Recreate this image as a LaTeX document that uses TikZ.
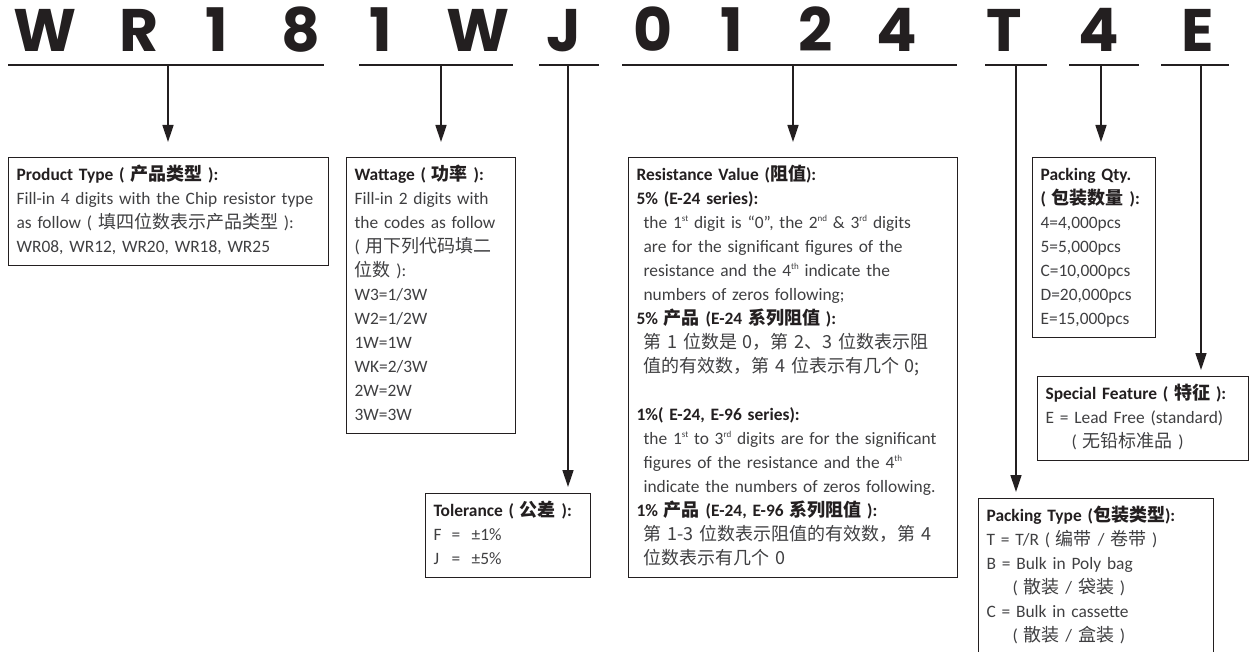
\documentclass[tikz,border=0pt]{standalone}
\usepackage{fontspec}
\setmainfont{Carlito}
\newfontfamily\codefont{Poppins}
\newfontfamily\zhfont{Noto Sans CJK SC}
\usetikzlibrary{arrows.meta}
\definecolor{ink}{HTML}{231F20}
\definecolor{greytext}{HTML}{3F3F41}
\newcommand\zh[1]{{\zhfont\fontsize{18}{24}\selectfont #1}}
\newcommand\hd[1]{\textcolor{ink}{\bfseries #1}}
\newcommand\sups[1]{\raisebox{6.5pt}{\fontsize{9}{9}\selectfont #1}}
\newcommand\ind{\hspace*{7pt}}
\begin{document}
\begin{tikzpicture}[x=1pt,y=-1pt,
  code/.style={font=\codefont\bfseries\fontsize{60}{60}\selectfont,text=ink,anchor=base,inner sep=0pt},
  uline/.style={draw=ink,line width=1.4pt},
  arr/.style={draw=ink,line width=1.5pt,-{Triangle[length=17pt,width=11pt]},shorten >=#1},
  arr/.default=6pt,
  infobox/.style={draw=ink,line width=1.2pt,anchor=north west,align=left,
    inner xsep=8pt,inner ysep=6pt,text=greytext,font=\fontsize{17.4}{24}\selectfont}]
\useasboundingbox (0,0) rectangle (1250,652);
\foreach \x/\c [count=\i] in {45/W,139/R,217/1,301/8,381/1,478/W,564/J,
    653/0,732/1,816/2,897/4,1004/T,1099/4,1198/E}
  \node[code] (c\i) at (\x,52) {\c};
\foreach \a/\b/\t/\n in {8/324/168/prodtick,359/513/441/watttick,539/599/568/toltick,
    622/957/793/restick,985/1047/1016/packtick,1069/1139/1101/qtytick,1161/1229/1201/feattick}
  {\draw[uline] (\a,65) -- (\b,65);
   \coordinate (\n) at (\t,65);}

\node[infobox,text width=304pt] (prod) at (8,157) {\strut\hd{Product Type ( \zh{产品类型} ):}\\
  Fill-in 4 digits with the Chip resistor type\\
  as follow ( \zh{填四位数表示产品类型} ):\\
  WR08, WR12, WR20, WR18, WR25\strut};
\node[infobox,text width=153pt] (watt) at (346,157) {\strut\hd{Wattage ( \zh{功率} ):}\\
  Fill-in 2 digits with\\
  the codes as follow\\
  ( \zh{用下列代码填二}\\
  \zh{位数} ):\\
  W3=1/3W\\ W2=1/2W\\ 1W=1W\\ WK=2/3W\\ 2W=2W\\ 3W=3W\strut};
\node[infobox,text width=149pt] (tol) at (425,493) {\strut\hd{Tolerance ( \zh{公差} ):}\\
  \makebox[18pt][l]{F}\makebox[20pt][l]{=}±1\%\\
  \makebox[18pt][l]{J}\makebox[20pt][l]{=}±5\%\strut};
\node[infobox,text width=313pt] (res) at (628,157) {\strut\hd{Resistance Value (\zh{阻值}):}\\
  \hd{5\% (E-24 series):}\\
  \ind the 1\sups{st} digit is “0”, the 2\sups{nd} \& 3\sups{rd} digits\\
  \ind are for the significant figures of the\\
  \ind resistance and the 4\sups{th} indicate the\\
  \ind numbers of zeros following;\\
  \hd{5\% \zh{产品} (E-24 \zh{系列阻值} ):}\\
  \ind\zh{第 1 位数是 0，第 2、3 位数表示阻}\\
  \ind\zh{值的有效数，第 4 位表示有几个 0;}\\[24pt]
  \hd{1\%( E-24, E-96 series):}\\
  \ind the 1\sups{st} to 3\sups{rd} digits are for the significant\\
  \ind figures of the resistance and the 4\sups{th}\\
  \ind indicate the numbers of zeros following.\\
  \hd{1\% \zh{产品} (E-24, E-96 \zh{系列阻值} ):}\\
  \ind\zh{第 1-3 位数表示阻值的有效数，第 4}\\
  \ind\zh{位数表示有几个 0}\strut};
\node[infobox,text width=107pt] (qty) at (1032,157) {\strut\hd{Packing Qty.}\\
  \hd{( \zh{包装数量} ):}\\
  4=4,000pcs\\ 5=5,000pcs\\ C=10,000pcs\\ D=20,000pcs\\ E=15,000pcs\strut};
\node[infobox,text width=195pt] (feat) at (1037,376) {\strut\hd{Special Feature ( \zh{特征} ):}\\
  E = Lead Free (standard)\\
  \hspace*{26pt}( \zh{无铅标准品} )\strut};
\node[infobox,text width=219pt] (pack) at (978,498) {\strut\hd{Packing Type (\zh{包装类型}):}\\
  T = T/R ( \zh{编带} / \zh{卷带} )\\
  B = Bulk in Poly bag\\
  \hspace*{26pt}( \zh{散装} / \zh{袋装} )\\
  C = Bulk in cassette\\
  \hspace*{26pt}( \zh{散装} / \zh{盒装} )\strut};

\draw[arr=15pt] (prodtick) -- (prodtick |- prod.north);
\draw[arr=15pt] (watttick) -- (watttick |- watt.north);
\draw[arr=15pt] (restick) -- (restick |- res.north);
\draw[arr=15pt] (qtytick) -- (qtytick |- qty.north);
\draw[arr] (toltick) -- (toltick |- tol.north);
\draw[arr] (packtick) -- (packtick |- pack.north);
\draw[arr] (feattick) -- (feattick |- feat.north);
\end{tikzpicture}
\end{document}
